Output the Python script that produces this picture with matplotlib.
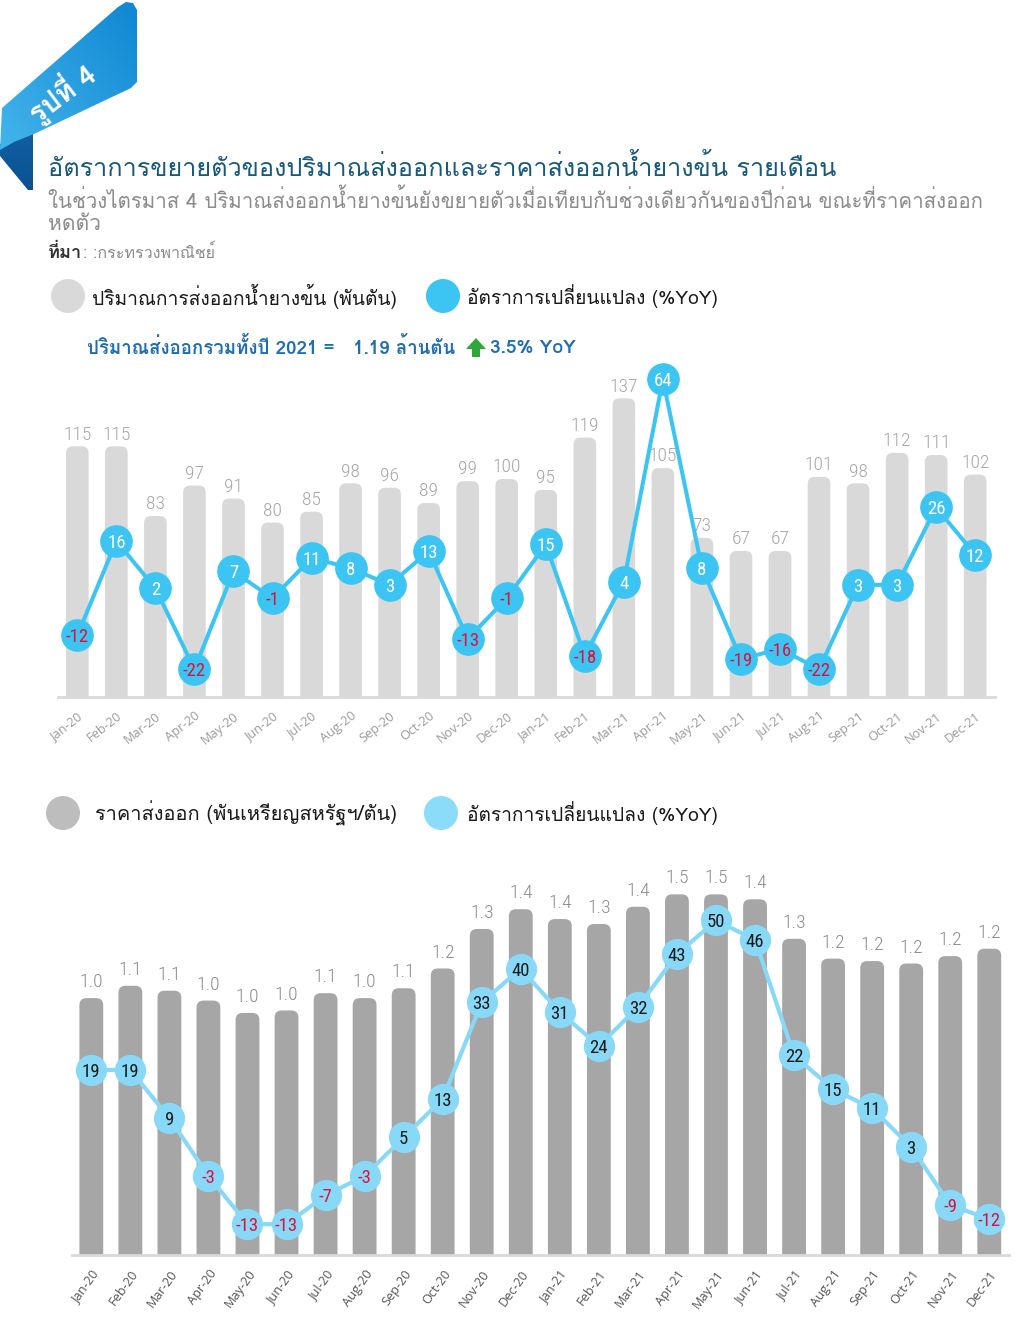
import numpy as np
import matplotlib
matplotlib.use("Agg")
import matplotlib.pyplot as plt
from matplotlib import font_manager as fm
from matplotlib.ft2font import FT2Font
from matplotlib.patches import FancyBboxPatch, Polygon, Circle
from matplotlib.colors import LinearSegmentedColormap

# ---------------- data ----------------
months = ["Jan-20", "Feb-20", "Mar-20", "Apr-20", "May-20", "Jun-20", "Jul-20", "Aug-20",
          "Sep-20", "Oct-20", "Nov-20", "Dec-20", "Jan-21", "Feb-21", "Mar-21", "Apr-21",
          "May-21", "Jun-21", "Jul-21", "Aug-21", "Sep-21", "Oct-21", "Nov-21", "Dec-21"]
volume = [115, 115, 83, 97, 91, 80, 85, 98, 96, 89, 99, 100,
          95, 119, 137, 105, 73, 67, 67, 101, 98, 112, 111, 102]
volume_yoy = [-12, 16, 2, -22, 7, -1, 11, 8, 3, 13, -13, -1,
              15, -18, 4, 64, 8, -19, -16, -22, 3, 3, 26, 12]
price = [1.04, 1.09, 1.07, 1.03, 0.98, 0.99, 1.06, 1.04, 1.08, 1.16, 1.32, 1.40,
         1.36, 1.34, 1.41, 1.46, 1.46, 1.44, 1.28, 1.20, 1.19, 1.18, 1.21, 1.24]
price_yoy = [19, 19, 9, -3, -13, -13, -7, -3, 5, 13, 33, 40,
             31, 24, 32, 43, 50, 46, 22, 15, 11, 3, -9, -12]

title = "อัตราการขยายตัวของปริมาณส่งออกและราคาส่งออกน้ำยางข้น รายเดือน"
subtitle1 = "ในช่วงไตรมาส 4 ปริมาณส่งออกน้ำยางข้นยังขยายตัวเมื่อเทียบกับช่วงเดียวกันของปีก่อน ขณะที่ราคาส่งออก"
subtitle2 = "หดตัว"
source_bold = "ที่มา"
source_rest = ": :กระทรวงพาณิชย์"
badge = "รูปที่ 4"
legend1_a = "ปริมาณการส่งออกน้ำยางข้น (พันตัน)"
legend1_b = "อัตราการเปลี่ยนแปลง (%YoY)"
note_text = "ปริมาณส่งออกรวมทั้งปี 2021 =   1.19 ล้านตัน"
note_pct = "3.5% YoY"
legend2_a = "ราคาส่งออก (พันเหรียญสหรัฐฯ/ตัน)"
legend2_b = "อัตราการเปลี่ยนแปลง (%YoY)"

# ---------------- fonts ----------------
names = {f.name for f in fm.fontManager.ttflist}
thai = []
for f in fm.fontManager.ttflist:
    if f.name in thai:
        continue
    try:
        cm = FT2Font(f.fname).get_charmap()
    except Exception:
        continue
    if 0x0E01 in cm and 0x0E33 in cm and 0x0E49 in cm:
        thai.append(f.name)
pref = [n for n in thai if any(k in n for k in ("Kanit", "Prompt", "Noto Sans Thai", "Sarabun", "Loma", "Garuda"))]
THAI = (pref or thai or ["DejaVu Sans"])[0]
TF = [THAI, "DejaVu Sans"]
NUM = "Roboto Condensed" if "Roboto Condensed" in names else ("Roboto" if "Roboto" in names else "DejaVu Sans")
TICKF = "Open Sans" if "Open Sans" in names else "DejaVu Sans"
plt.rcParams["font.family"] = TF

W, H = 1032, 1322
fig = plt.figure(figsize=(W / 100, H / 100), dpi=100)
fig.patch.set_facecolor("white")

# overlay in pixel coordinates
ov = fig.add_axes([0, 0, 1, 1], zorder=0)
ov.set_xlim(0, W)
ov.set_ylim(H, 0)
ov.axis("off")

fig.canvas.draw()
renderer = fig.canvas.get_renderer()


def ptext(x, y, s, width=None, size=12, ha="left", va="center", rotation=0, **kw):
    t = ov.text(x, y, s, fontsize=size, ha=ha, va=va, **kw)
    if width:
        for _ in range(2):
            bb = t.get_window_extent(renderer)
            if bb.width > 0:
                ns = t.get_fontsize() * width / bb.width
                ns = max(size * 0.75, min(size * 1.3, ns))
                t.set_fontsize(ns)
    if rotation:
        t.set_rotation(rotation)
    return t


# ---------- ribbon badge (with gradients) ----------
def grad_fill(poly_pts, c0, c1, direction):
    cmap = LinearSegmentedColormap.from_list("g", [c0, c1])
    X, Y = np.meshgrid(np.linspace(0, 140, 141), np.linspace(0, 200, 201))
    t = direction(X, Y)
    t = (t - t.min()) / (t.max() - t.min())
    patch = Polygon(poly_pts, closed=True, facecolor="none", edgecolor="none")
    ov.add_patch(patch)
    im = ov.imshow(t, cmap=cmap, extent=(0, 140, 200, 0), origin="upper",
                   aspect="auto", interpolation="bilinear", zorder=1)
    im.set_clip_path(patch)


tail = [(0, 144), (33, 132), (33, 190), (28, 190), (0, 156)]
grad_fill(tail, "#1b7fc8", "#0a4f8f", lambda X, Y: Y)
band = [(2, 108), (118, 7), (126, 2), (133, 3), (137, 10), (137, 82), (131, 88),
        (34, 134), (14, 142), (0, 150)]
grad_fill(band, "#4bbcf0", "#0f86d2", lambda X, Y: X - 0.8 * Y)
ov.set_xlim(0, W)
ov.set_ylim(H, 0)
ptext(62, 93, badge, width=76, size=17, ha="center", va="center", rotation=37,
      color="white", fontweight="bold", family=TF, zorder=3)

# ---------- titles ----------
ptext(48, 168, title, width=788, size=19, color="#17597b", family=TF)
ptext(48, 200, subtitle1, width=935, size=15, color="#8c8c8c", family=TF)
ptext(48, 225, subtitle2, width=53, size=15, color="#8c8c8c", family=TF)
ptext(48, 253, source_bold, width=34, size=12, color="#333333", fontweight="bold", family=TF)
ptext(83, 253, source_rest, width=132, size=12, color="#8c8c8c", family=TF)

# ---------- legend 1 ----------
ov.add_patch(Circle((68, 296), 17, facecolor="#d9d9d9", edgecolor="none"))
ov.add_patch(Circle((443, 296), 17, facecolor="#3cc5f2", edgecolor="none"))
ptext(92, 296, legend1_a, width=305, size=15, color="#1a1a1a", family=TF)
ptext(467, 296, legend1_b, width=251, size=15, color="#1a1a1a", family=TF)

# ---------- note ----------
ptext(87, 348, note_text, width=368, size=14, color="#1f6db3", fontweight="bold", family=TF)
ov.add_patch(Polygon([(466, 349), (476, 338), (486, 349), (480, 349), (480, 357),
                      (472, 357), (472, 349)], closed=True, facecolor="#2da83b", edgecolor="none"))
ptext(490, 348, note_pct, width=86, size=14, color="#1f6db3", fontweight="bold", family=TF)

# ---------- legend 2 ----------
ov.add_patch(Circle((63, 813), 17, facecolor="#bdbdbd", edgecolor="none"))
ov.add_patch(Circle((441, 813), 17, facecolor="#8adcf9", edgecolor="none"))
ptext(95, 813, legend2_a, width=302, size=15, color="#1a1a1a", family=TF)
ptext(467, 813, legend2_b, width=251, size=15, color="#1a1a1a", family=TF)


def frac_box(left, right, top, bottom):
    return [left / W, 1 - bottom / H, (right - left) / W, (bottom - top) / H]


def rounded_bars(ax, bars, ppx, ppy, color, radius=7):
    for r in bars:
        r.set_visible(False)
        x0, w, h = r.get_x(), r.get_width(), r.get_height()
        pad = 12 / ppy
        p = FancyBboxPatch((x0, -pad), w, h + pad,
                           boxstyle=f"round,pad=0,rounding_size={radius / ppx}",
                           mutation_aspect=ppx / ppy, facecolor=color, edgecolor="none")
        ax.add_patch(p)


def style_axes(ax, axb, tick_color, rot, size):
    for s in ("top", "left", "right"):
        ax.spines[s].set_visible(False)
    ax.spines["bottom"].set_color("#d9d9d9")
    ax.spines["bottom"].set_linewidth(2)
    for s in axb.spines.values():
        s.set_visible(False)
    ax.set_yticks([])
    axb.set_yticks([])
    ax.patch.set_alpha(0)
    ax.set_xticks(range(len(months)))
    ax.set_xticklabels(months, rotation=rot, ha="right", rotation_mode="anchor",
                       fontsize=size, color=tick_color, family=TICKF)
    ax.tick_params(axis="x", length=0, pad=9)
    ax.set_xlim(-0.5, len(months) - 0.5)


x = np.arange(len(months))
PPX = 39.04

# ---------- chart 1 ----------
top1, base1 = 360, 697
ppy1 = 2.18
ax1 = fig.add_axes(frac_box(57.8, 994.7, top1, base1), zorder=1)
ax1.set_ylim(0, (base1 - top1) / ppy1)
b1 = ax1.bar(x, volume, width=0.58, color="#d9d9d9")
rounded_bars(ax1, b1, PPX, ppy1, "#d9d9d9")
for i, v in enumerate(volume):
    ax1.annotate(f"{v}", (i, v), xytext=(0, 2), textcoords="offset points", ha="center",
                 va="bottom", fontsize=14, color="#a6a6a6", family=NUM, fontweight="light")
ax1b = ax1.twinx()
zero1, ppl1 = 595, 3.37
ax1b.set_ylim(-(base1 - zero1) / ppl1, (zero1 - top1) / ppl1)
ax1b.plot(x, volume_yoy, color="#3cc5f2", lw=2.9, marker="o", ms=22.5,
          mfc="#3cc5f2", mec="#3cc5f2", solid_capstyle="round", clip_on=False)
for i, v in enumerate(volume_yoy):
    ax1b.text(i, v, f"{v}", ha="center", va="center_baseline", fontsize=13.5,
              color="white" if v >= 0 else "#e0103c", family=NUM)
style_axes(ax1, ax1b, "#9a9a9a", 38, 9.2)

# ---------- chart 2 ----------
top2, base2 = 860, 1255
ppy2 = 247.0
ax2 = fig.add_axes(frac_box(71.8, 1008.8, top2, base2), zorder=1)
ax2.set_ylim(0, (base2 - top2) / ppy2)
b2 = ax2.bar(x, price, width=0.61, color="#a6a6a6")
rounded_bars(ax2, b2, PPX, ppy2, "#a6a6a6")
for i, v in enumerate(price):
    ax2.annotate(f"{v:.1f}", (i, v), xytext=(0, 5), textcoords="offset points", ha="center",
                 va="bottom", fontsize=14, color="#8c8c8c", family=NUM, fontweight="light")
ax2b = ax2.twinx()
zero2, ppl2 = 1161.5, 4.82
ax2b.set_ylim(-(base2 - zero2) / ppl2, (zero2 - top2) / ppl2)
ax2b.plot(x, price_yoy, color="#88d9f7", lw=3.0, marker="o", ms=21.5,
          mfc="#88d9f7", mec="#88d9f7", clip_on=False)
for i, v in enumerate(price_yoy):
    ax2b.text(i, v, f"{v}", ha="center", va="center_baseline", fontsize=13.5,
              color="#1a1a1a" if v >= 0 else "#e0103c", family=NUM)
style_axes(ax2, ax2b, "#555555", 54, 9.2)

fig.savefig("out.png", dpi=100, facecolor="white")
